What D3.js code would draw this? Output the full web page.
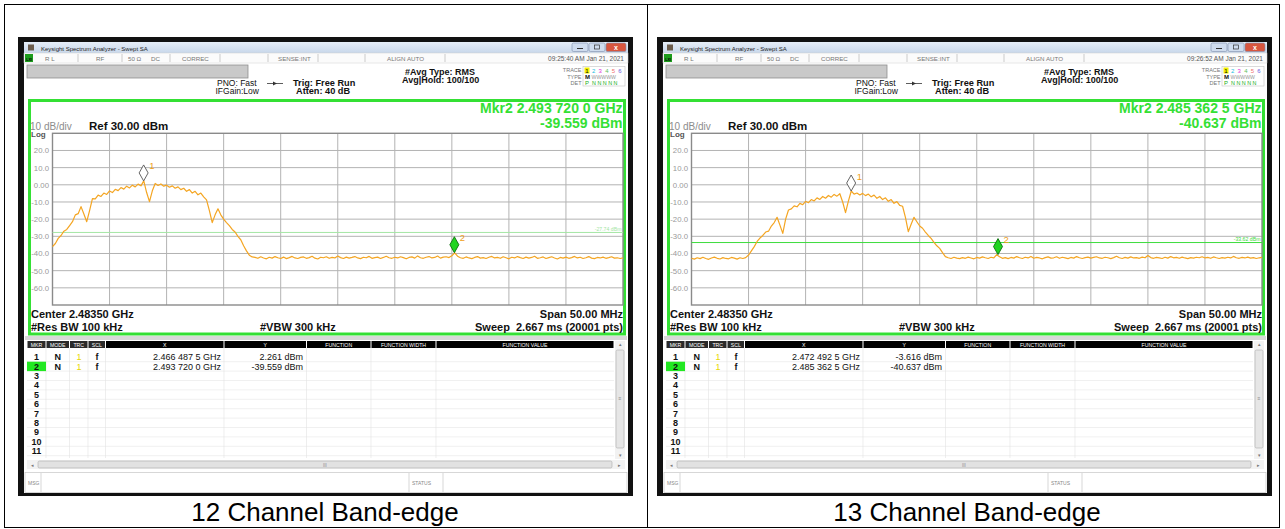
<!DOCTYPE html>
<html>
<head>
<meta charset="utf-8">
<script src="https://cdn.jsdelivr.net/npm/d3@7"></script>
<style>
  body { margin: 0; background: #fff; }
  svg { display: block; }
  text { font-family: "Liberation Sans", Arial, sans-serif; }
</style>
</head>
<body>
<svg id="chart" width="1285" height="529"></svg>
<script>
// ---- data ----
const startMHz = 2458.5;      // center 2483.5 MHz, span 50 MHz
const stopMHz = 2508.5;
const traceStep = 0.25;       // MHz between trace samples
const yTicks = [20, 10, 0, -10, -20, -30, -40, -50, -60];
const yTickLabels = ["20.0", "10.0", "0.00", "-10.0", "-20.0", "-30.0", "-40.0", "-50.0", "-60.0"];

// channel 12 trace, dBm, from 2458.5 MHz
const ch12Trace = [
  -36.0,-34.2,-31.2,-29.5,-27.0,-26.0,-23.8,-21.5,-17.5,-16.8,
  -12.7,-17.0,-21.5,-15.0,-8.0,-8.2,-6.0,-6.8,-4.8,-5.6,
  -3.6,-4.5,-2.6,-3.4,-1.6,-2.5,-0.8,-1.8,-0.2,-1.2,
  0.4,-0.6,2.3,-4.5,-9.8,-3.5,0.8,-0.4,0.5,-0.8,
  -0.2,-1.4,-0.6,-2.0,-1.2,-2.8,-2.0,-3.8,-2.8,-4.8,
  -3.8,-5.8,-4.8,-7.0,-8.8,-15.0,-22.0,-17.5,-14.0,-17.5,
  -20.0,-22.0,-23.8,-26.0,-27.5,-30.0,-32.0,-35.5,-38.5,-41.0,
  -42.0,
  // noise floor from 2476.25 MHz
  -42.3,-42.8,-41.9,-42.6,-43.1,-42.2,-42.7,-41.8,-42.5,-42.9,
  -42.1,-43.0,-42.4,-41.7,-42.6,-42.9,-42.3,-42.0,-42.8,-42.4,
  -41.6,-42.7,-43.2,-42.2,-42.5,-41.9,-42.8,-42.3,-42.6,-41.5,
  -42.4,-42.9,-42.1,-42.7,-42.3,-41.8,-42.6,-43.0,-42.2,-42.5,
  -41.7,-42.8,-42.4,-42.1,-42.9,-42.3,-41.6,-42.5,-42.8,-42.2,
  -42.6,-41.9,-42.4,-43.1,-42.3,-42.0,-42.7,-41.4,-42.5,-42.8,
  -42.2,-41.8,-42.6,-42.3,-41.5,-42.7,-42.1,-41.9,-42.4,-41.3,
  -39.6,-41.6,-42.5,-42.8,-42.0,-42.6,-43.0,-42.3,-41.8,-42.7,
  -42.4,-42.9,-42.2,-41.7,-42.6,-42.3,-42.8,-41.9,-42.5,-43.1,
  -42.2,-42.6,-41.8,-42.4,-42.9,-42.1,-42.7,-42.3,-41.6,-42.8,
  -42.5,-42.0,-42.9,-42.4,-41.9,-42.6,-43.2,-42.3,-42.7,-42.1,
  -42.8,-42.4,-41.7,-42.6,-42.2,-42.9,-42.5,-41.8,-42.7,-43.0,
  -42.3,-42.6,-42.1,-42.8,-42.4,-41.9,-42.7,-42.5,-42.9,-42.6
];

// channel 13 trace, dBm, from 2458.5 MHz
const ch13Trace = [
  -42.8,-43.3,-42.5,-43.0,-42.2,-42.9,-43.4,-42.6,-42.1,-42.8,
  -43.2,-42.4,-42.9,-43.1,-42.3,-42.7,-43.3,-42.5,-42.9,-42.4,
  // signal from 2463.5 MHz
  -40.9,-38.5,-36.0,-33.0,-31.0,-29.5,-27.5,-27.0,-24.0,-22.0,
  -18.9,-23.5,-28.3,-20.0,-14.7,-14.0,-12.3,-12.8,-10.8,-11.6,
  -9.6,-10.4,-8.6,-9.4,-7.6,-8.5,-6.8,-7.8,-6.2,-7.2,
  -5.6,-6.6,-5.2,-10.0,-16.2,-9.5,-3.6,-5.4,-4.8,-5.9,
  -5.0,-6.3,-5.4,-7.0,-6.0,-7.9,-6.8,-8.6,-7.6,-9.6,
  -8.6,-10.8,-9.8,-12.0,-12.5,-19.0,-27.3,-23.0,-18.9,-21.5,
  -24.0,-25.3,-27.5,-29.5,-31.2,-33.5,-35.5,-37.0,-39.5,-41.8,
  // noise floor from 2481.0 MHz
  -42.5,-42.9,-42.2,-42.7,-43.0,-42.4,-42.8,-42.1,-42.6,-43.1,
  -42.3,-42.7,-42.0,-42.5,-42.9,-42.2,-42.6,-40.7,-41.9,-42.8,
  -42.4,-43.0,-42.3,-42.7,-41.8,-42.5,-42.9,-42.2,-42.6,-41.7,
  -42.8,-42.3,-42.6,-43.1,-42.4,-42.0,-42.7,-42.5,-41.9,-42.8,
  -42.2,-42.6,-43.0,-42.3,-42.7,-41.8,-42.5,-42.9,-42.4,-42.1,
  -42.7,-42.3,-41.9,-42.6,-42.8,-42.2,-42.5,-43.0,-42.4,-41.6,
  -42.5,-42.9,-42.3,-42.7,-42.0,-42.6,-42.4,-42.8,-42.1,-42.5,
  -41.2,-42.4,-42.8,-42.3,-42.6,-42.9,-42.2,-42.7,-41.8,-42.5,
  -42.3,-42.8,-42.1,-42.6,-43.0,-42.4,-42.7,-42.2,-42.5,-41.9,
  -42.6,-42.3,-42.8,-42.0,-42.5,-42.9,-42.4,-42.7,-42.2,-42.6,
  -41.7,-42.5,-42.8,-42.3,-42.6,-42.1,-42.7,-42.4,-42.9,-42.5,
  -42.3
];

const markers12 = [
  { n: 1, mhz: 2466.4875, dbm: 2.261, x: "2.466 487 5 GHz", y: "2.261 dBm" },
  { n: 2, mhz: 2493.72, dbm: -39.559, x: "2.493 720 0 GHz", y: "-39.559 dBm" }
];
const markers13 = [
  { n: 1, mhz: 2472.4925, dbm: -3.616, x: "2.472 492 5 GHz", y: "-3.616 dBm" },
  { n: 2, mhz: 2485.3625, dbm: -40.637, x: "2.485 362 5 GHz", y: "-40.637 dBm" }
];

const tableCols = ["MKR", "MODE", "TRC", "SCL", "X", "Y", "FUNCTION", "FUNCTION WIDTH", "FUNCTION VALUE"];
const colEdges = [27, 46, 69.5, 88, 105.5, 224, 306.5, 371, 436, 614];
const rowNumbers = [1, 2, 3, 4, 5, 6, 7, 8, 9, 10, 11];
const statusCells = [
  { t: "R L", x: 45 }, { t: "RF", x: 96 }, { t: "50 Ω", x: 128 }, { t: "DC", x: 151 },
  { t: "CORREC", x: 182 }, { t: "SENSE:INT", x: 278 }, { t: "ALIGN AUTO", x: 387 }
];
const statusSeps = [78, 122, 170, 220, 268, 318, 365, 445];
const traceDigits = ["1", "2", "3", "4", "5", "6"];
const traceDigitColors = ["#000", "#18c0e0", "#e030d8", "#60c060", "#f07070", "#6a5ae0"];

const panels = [
  { ox: 0, caption: "12 Channel Band-edge", capX: 325, time: "09:25:40 AM Jan 21, 2021",
    trace: ch12Trace, markers: markers12, dispLine: -27.74, dispLabel: "-27.74 dBm", dispColor: "#a4e6a4" },
  { ox: 639, caption: "13 Channel Band-edge", capX: 967, time: "09:26:52 AM Jan 21, 2021",
    trace: ch13Trace, markers: markers13, dispLine: -33.62, dispLabel: "-33.62 dBm", dispColor: "#3ddc3d" }
];

const svg = d3.select("#chart");
const green = "#34e034";

// page table
svg.append("rect").attr("x", 4.5).attr("y", 4.5).attr("width", 1275).attr("height", 523)
  .attr("fill", "none").attr("stroke", "#000");
svg.append("line").attr("x1", 647.5).attr("x2", 647.5).attr("y1", 4.5).attr("y2", 527.5)
  .attr("stroke", "#000");

const defs = svg.append("defs");
const tb = defs.append("linearGradient").attr("id", "titlebar").attr("x1", 0).attr("x2", 0).attr("y1", 0).attr("y2", 1);
tb.append("stop").attr("offset", 0).attr("stop-color", "#e6eef8");
tb.append("stop").attr("offset", 1).attr("stop-color", "#c8d7ea");

function txt(g, x, y, s, size, opts = {}) {
  return g.append("text").attr("x", x).attr("y", y).text(s)
    .style("font-size", size + "px")
    .style("font-weight", opts.bold ? "bold" : "normal")
    .attr("fill", opts.fill || "#111")
    .attr("text-anchor", opts.anchor || "start")
    .style("white-space", "pre");
}

function drawPanel(p, idx) {
  const g = svg.append("g").attr("transform", `translate(${p.ox},0)`);

  // window frame
  g.append("rect").attr("x", 18).attr("y", 37).attr("width", 615).attr("height", 459).attr("fill", "#111");
  g.append("rect").attr("x", 24).attr("y", 42).attr("width", 604).attr("height", 451).attr("fill", "#fff");

  // title bar
  g.append("rect").attr("x", 24).attr("y", 42).attr("width", 604).attr("height", 11).attr("fill", "url(#titlebar)");
  g.append("rect").attr("x", 28).attr("y", 44.5).attr("width", 6).attr("height", 6).attr("fill", "#6b5c4c");
  txt(g, 41, 50.5, "Keysight Spectrum Analyzer - Swept SA", 6, { fill: "#222" });
  [[572, 16, "#cfdcee"], [589, 16, "#cfdcee"], [606, 20, "#d8563f"]].forEach(b => {
    g.append("rect").attr("x", b[0]).attr("y", 43).attr("width", b[1]).attr("height", 8.5).attr("rx", 1.5)
      .attr("fill", b[2]).attr("stroke", "#7d8fab").attr("stroke-width", 0.6);
  });
  g.append("line").attr("x1", 577).attr("x2", 583).attr("y1", 48.5).attr("y2", 48.5).attr("stroke", "#333");
  g.append("rect").attr("x", 594.5).attr("y", 45).attr("width", 5).attr("height", 4).attr("fill", "none").attr("stroke", "#333").attr("stroke-width", 0.7);
  txt(g, 616, 50, "x", 7, { fill: "#fff", bold: true, anchor: "middle" });

  // status row
  g.append("rect").attr("x", 24).attr("y", 53).attr("width", 604).attr("height", 10).attr("fill", "#fbfbfb")
    .attr("stroke", "#d0d0d0").attr("stroke-width", 0.5);
  g.append("rect").attr("x", 25).attr("y", 54).attr("width", 8).attr("height", 8).attr("fill", "#1c9c1c");
  txt(g, 29, 60.5, "LXI", 3.6, { fill: "#000", anchor: "middle", bold: true });
  statusSeps.forEach(s => g.append("line").attr("x1", s).attr("x2", s).attr("y1", 54).attr("y2", 62)
    .attr("stroke", "#b8b8b8").attr("stroke-width", 0.7));
  statusCells.forEach(c => txt(g, c.x, 60.5, c.t, 6.2, { fill: "#777" }));
  txt(g, 624, 60.5, p.time, 6.5, { fill: "#555", anchor: "end" });

  // grey message bar
  g.append("rect").attr("x", 27).attr("y", 65).attr("width", 221).attr("height", 13)
    .attr("fill", "#c9c9c9").attr("stroke", "#8e8e8e").attr("stroke-width", 0.8);

  txt(g, 217, 86.3, "PNO: Fast", 8.5);
  txt(g, 215.5, 94, "IFGain:Low", 8.5);
  g.append("line").attr("x1", 267).attr("x2", 283).attr("y1", 83.5).attr("y2", 83.5).attr("stroke", "#333").attr("stroke-width", 0.8);
  g.append("path").attr("d", "M273,81.5 L277,83.5 L273,85.5 Z").attr("fill", "#333");
  txt(g, 293, 86, "Trig: Free Run", 9.2, { bold: true });
  txt(g, 296, 94, "Atten: 40 dB", 9.2, { bold: true });
  txt(g, 405, 74.5, "#Avg Type: RMS", 9, { bold: true });
  txt(g, 402, 82.5, "Avg|Hold: 100/100", 9, { bold: true });

  // trace legend box
  txt(g, 581.5, 72, "TRACE", 5.5, { fill: "#777", anchor: "end" });
  txt(g, 581.5, 78.5, "TYPE", 5.5, { fill: "#777", anchor: "end" });
  txt(g, 581.5, 84.5, "DET", 5.5, { fill: "#777", anchor: "end" });
  g.append("rect").attr("x", 583).attr("y", 66.5).attr("width", 42).attr("height", 19.5)
    .attr("fill", "#fff").attr("stroke", "#c4c4c4").attr("stroke-width", 0.6);
  g.append("rect").attr("x", 584.5).attr("y", 67.5).attr("width", 5).attr("height", 6).attr("fill", "#f4f000");
  traceDigits.forEach((d, i) => txt(g, 587 + i * 6.6, 72.5, d, 6, { fill: traceDigitColors[i], anchor: "middle" }));
  txt(g, 585, 78.8, "M", 6, { bold: true });
  txt(g, 591.5, 78.8, "WWWWW", 5.2, { fill: "#999" });
  txt(g, 585, 84.8, "P", 6, { fill: "#20b020" });
  txt(g, 592, 84.8, "N N N N N", 5.4, { fill: "#20b020" });

  // plot frame
  g.append("rect").attr("x", 29.5).attr("y", 100.5).attr("width", 595).attr("height", 233.5)
    .attr("fill", "#fff").attr("stroke", green).attr("stroke-width", 3);

  const m2 = p.markers[1];
  txt(g, 622.5, 112.5, "Mkr2 " + m2.x, 14, { bold: true, fill: green, anchor: "end" });
  txt(g, 622.5, 128, m2.y, 14, { bold: true, fill: green, anchor: "end" });

  txt(g, 30, 129.5, "10 dB/div", 10, { fill: "#8c8c8c" });
  txt(g, 31, 137, "Log", 8, { fill: "#555", bold: true });
  txt(g, 89, 130, "Ref 30.00 dBm", 11.5, { bold: true });

  // scales
  const x = d3.scaleLinear().domain([startMHz, stopMHz]).range([52.5, 623]);
  const y = d3.scaleLinear().domain([-70, 30]).range([305, 133.3]);

  // grid
  const grid = g.append("g");
  grid.selectAll("line.v").data(d3.range(1, 10)).enter().append("line")
    .attr("x1", i => x(startMHz + i * 5)).attr("x2", i => x(startMHz + i * 5))
    .attr("y1", y(30)).attr("y2", y(-70)).attr("stroke", "#b3b3b3").attr("stroke-width", 1);
  grid.selectAll("line.h").data(yTicks).enter().append("line")
    .attr("x1", x(startMHz)).attr("x2", x(stopMHz))
    .attr("y1", d => y(d)).attr("y2", d => y(d)).attr("stroke", "#b3b3b3").attr("stroke-width", 1);
  grid.append("rect").attr("x", x(startMHz)).attr("y", y(30))
    .attr("width", x(stopMHz) - x(startMHz)).attr("height", y(-70) - y(30))
    .attr("fill", "none").attr("stroke", "#8a8a8a").attr("stroke-width", 1.4);

  // y axis labels
  const yAxis = d3.axisLeft(y).tickValues(yTicks).tickSize(0).tickPadding(2)
    .tickFormat((d, i) => yTickLabels[i]);
  const ya = g.append("g").attr("transform", "translate(51,0)").call(yAxis);
  ya.select(".domain").remove();
  ya.selectAll("text").style("font-size", "7.8px").attr("fill", "#9a9a9a")
    .style("font-family", "'Liberation Sans', Arial, sans-serif");

  // display line
  g.append("line").attr("x1", x(startMHz)).attr("x2", x(stopMHz))
    .attr("y1", y(p.dispLine)).attr("y2", y(p.dispLine))
    .attr("stroke", p.dispColor).attr("stroke-width", 1);
  txt(g, 621.5, y(p.dispLine) - 1.5, p.dispLabel, 5.2, { fill: p.dispColor, anchor: "end" });

  // trace
  const line = d3.line().x((d, i) => x(startMHz + i * traceStep)).y(d => y(d));
  g.append("path").datum(p.trace).attr("d", line).attr("fill", "none")
    .attr("stroke", "#f4a522").attr("stroke-width", 1.2).attr("stroke-linejoin", "round");

  // markers
  p.markers.forEach(m => {
    const mx = x(m.mhz), my = y(m.dbm);
    g.append("path").attr("d", `M${mx},${my} L${mx + 4.5},${my - 8} L${mx},${my - 16} L${mx - 4.5},${my - 8} Z`)
      .attr("fill", m.n === 1 ? "#fff" : "#20d420")
      .attr("stroke", m.n === 1 ? "#555" : "#0b6e0b").attr("stroke-width", 0.9);
    txt(g, mx + 5.5, my - 11.5, String(m.n), 9.5, { fill: "#f0a020" });
  });

  // bottom annotations
  txt(g, 31, 318, "Center 2.48350 GHz", 11, { bold: true });
  txt(g, 31, 331, "#Res BW 100 kHz", 11, { bold: true });
  txt(g, 260, 331, "#VBW 300 kHz", 11, { bold: true });
  txt(g, 623, 318, "Span 50.00 MHz", 11, { bold: true, anchor: "end" });
  txt(g, 623, 331, "Sweep  2.667 ms (20001 pts)", 11, { bold: true, anchor: "end" });

  // marker table
  g.append("rect").attr("x", 25).attr("y", 336).attr("width", 602).attr("height", 4).attr("fill", "#d8d8d8");
  const rowY = i => 357 + i * 9.4;
  const body = g.append("g");
  rowNumbers.forEach((r, i) => {
    body.append("line").attr("x1", 27).attr("x2", 614).attr("y1", rowY(i) + 4.7).attr("y2", rowY(i) + 4.7)
      .attr("stroke", "#e6e6e6").attr("stroke-width", 0.6);
  });
  colEdges.slice(1, -1).forEach(cx => body.append("line").attr("x1", cx).attr("x2", cx)
    .attr("y1", 348).attr("y2", 458).attr("stroke", "#e2e2e2").attr("stroke-width", 0.6));
  tableCols.forEach((c, i) => {
    const x0 = colEdges[i], x1 = colEdges[i + 1];
    g.append("rect").attr("x", x0 + 0.5).attr("y", 341).attr("width", x1 - x0 - 1).attr("height", 7)
      .attr("fill", i < 4 ? "#2a2a2a" : "#000");
    txt(g, (x0 + x1) / 2, 346.6, c, 5.2, { fill: "#fff", anchor: "middle" });
  });
  g.append("rect").attr("x", colEdges[0]).attr("y", rowY(1) - 4.7).attr("width", colEdges[1] - colEdges[0]).attr("height", 9.4)
    .attr("fill", "#22e822");
  rowNumbers.forEach((r, i) => txt(g, 36.5, rowY(i) + 3.2, String(r), 9, { bold: true, anchor: "middle" }));
  p.markers.forEach((m, i) => {
    const yy = rowY(i) + 3.2;
    txt(g, 57.7, yy, "N", 9, { bold: true, anchor: "middle" });
    txt(g, 79, yy, "1", 9, { fill: "#e8d800", anchor: "middle" });
    txt(g, 97, yy, "f", 9, { bold: true, anchor: "middle" });
    txt(g, 221, yy, m.x, 9, { anchor: "end" });
    txt(g, 303, yy, m.y, 9, { anchor: "end" });
  });

  // vertical scrollbar
  g.append("rect").attr("x", 615).attr("y", 341).attr("width", 10).attr("height", 118).attr("fill", "#f2f2f2");
  g.append("rect").attr("x", 616).attr("y", 350).attr("width", 8).attr("height", 98).attr("rx", 1.5)
    .attr("fill", "#e6e6e6").attr("stroke", "#ababab").attr("stroke-width", 0.6);
  txt(g, 620, 346, "▴", 5, { fill: "#777", anchor: "middle" });
  txt(g, 620, 457, "▾", 5, { fill: "#777", anchor: "middle" });
  txt(g, 620, 400, "≡", 5, { fill: "#888", anchor: "middle" });

  // horizontal scrollbar
  g.append("rect").attr("x", 27).attr("y", 460).attr("width", 598).attr("height", 9).attr("fill", "#f2f2f2");
  g.append("rect").attr("x", 38).attr("y", 461).attr("width", 574).attr("height", 7).attr("rx", 1.5)
    .attr("fill", "#e2e2e2").attr("stroke", "#ababab").attr("stroke-width", 0.6);
  txt(g, 32, 466.5, "◂", 5, { fill: "#777", anchor: "middle" });
  txt(g, 619, 466.5, "▸", 5, { fill: "#777", anchor: "middle" });
  txt(g, 325, 466.5, "III", 4.5, { fill: "#888", anchor: "middle" });

  // message row
  g.append("rect").attr("x", 25).attr("y", 472.5).attr("width", 602).attr("height", 20)
    .attr("fill", "#fff").attr("stroke", "#bcbcbc").attr("stroke-width", 0.6);
  [41, 409, 443].forEach(s => g.append("line").attr("x1", s).attr("x2", s).attr("y1", 473).attr("y2", 492)
    .attr("stroke", "#bcbcbc").attr("stroke-width", 0.6));
  txt(g, 28, 484.5, "MSG", 5, { fill: "#888" });
  txt(g, 412, 484.5, "STATUS", 5, { fill: "#888" });

  // caption
  txt(svg, p.capX, 521, p.caption, 26, { fill: "#000", anchor: "middle" });
}

panels.forEach(drawPanel);
</script>
</body>
</html>
